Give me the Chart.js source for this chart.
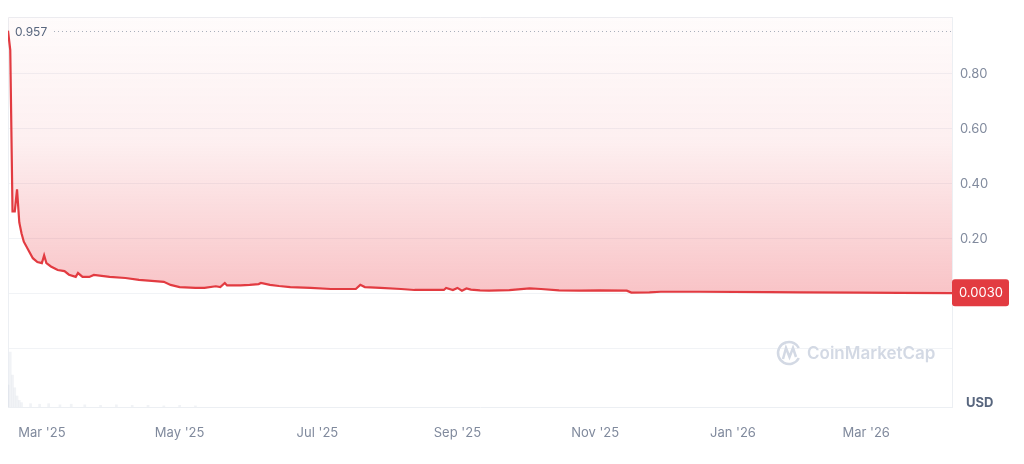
<!DOCTYPE html>
<html>
<head>
<meta charset="utf-8">
<script src="https://cdn.jsdelivr.net/npm/chart.js@4/dist/chart.umd.min.js"></script>
<style>
  html, body { margin: 0; padding: 0; background: #fff; }
  #wrap { width: 1024px; height: 464px; }
</style>
</head>
<body>
<div id="wrap"><canvas id="chart"></canvas></div>
<script>
// price history (USD)
const priceDates = ['2025-02-14', '2025-02-15', '2025-02-16', '2025-02-17', '2025-02-18', '2025-02-19', '2025-02-20', '2025-02-21', '2025-02-23', '2025-02-25', '2025-02-27', '2025-03-01', '2025-03-02', '2025-03-03', '2025-03-05', '2025-03-08', '2025-03-11', '2025-03-13', '2025-03-16', '2025-03-17', '2025-03-19', '2025-03-22', '2025-03-24', '2025-03-31', '2025-04-07', '2025-04-13', '2025-04-20', '2025-04-24', '2025-04-27', '2025-05-01', '2025-05-08', '2025-05-12', '2025-05-17', '2025-05-19', '2025-05-21', '2025-05-22', '2025-05-28', '2025-06-01', '2025-06-05', '2025-06-06', '2025-06-10', '2025-06-14', '2025-06-19', '2025-06-28', '2025-07-07', '2025-07-18', '2025-07-20', '2025-07-22', '2025-07-29', '2025-08-07', '2025-08-13', '2025-08-26', '2025-08-27', '2025-08-30', '2025-09-01', '2025-09-03', '2025-09-05', '2025-09-07', '2025-09-11', '2025-09-15', '2025-09-24', '2025-10-03', '2025-10-08', '2025-10-16', '2025-10-25', '2025-11-03', '2025-11-15', '2025-11-17', '2025-11-25', '2025-11-30', '2025-12-17', '2026-01-17', '2026-01-31', '2026-02-26', '2026-03-16', '2026-04-08'];
const prices = [0.957, 0.887, 0.30, 0.30, 0.38, 0.26, 0.22, 0.19, 0.16, 0.13, 0.116, 0.112, 0.14, 0.112, 0.10, 0.087, 0.083, 0.07, 0.062, 0.076, 0.062, 0.062, 0.069, 0.062, 0.058, 0.051, 0.047, 0.044, 0.033, 0.025, 0.022, 0.022, 0.028, 0.025, 0.04, 0.031, 0.031, 0.033, 0.036, 0.04, 0.033, 0.029, 0.025, 0.022, 0.018, 0.018, 0.033, 0.025, 0.022, 0.018, 0.0145, 0.0145, 0.022, 0.014, 0.022, 0.012, 0.02, 0.016, 0.013, 0.012, 0.014, 0.02, 0.018, 0.013, 0.012, 0.013, 0.012, 0.005, 0.006, 0.008, 0.008, 0.007, 0.006, 0.005, 0.004, 0.003];

// volume (relative), faint bars at the bottom
const volumeDates = ['2025-02-14', '2025-02-15', '2025-02-16', '2025-02-17', '2025-02-18', '2025-02-19', '2025-02-20', '2025-02-24', '2025-02-28', '2025-03-04', '2025-03-09', '2025-03-14', '2025-03-20', '2025-03-27', '2025-04-03', '2025-04-10', '2025-04-17', '2025-04-24', '2025-05-01', '2025-05-08'];
const volumes = [40, 100, 58, 35, 20, 12, 8, 6, 5, 6, 4, 5, 4, 3, 4, 3, 3, 2, 3, 2];

const tickDates = ['2025-03-01', '2025-05-01', '2025-07-01', '2025-09-01', '2025-11-01', '2026-01-01', '2026-03-01'];
const tickLabels = ["Mar '25", "May '25", "Jul '25", "Sep '25", "Nov '25", "Jan '26", "Mar '26"];
const priceTicks = [-0.2, 0, 0.2, 0.4, 0.6, 0.8];

const startDay = Date.parse('2025-02-14');
const toDay = s => (Date.parse(s) - startDay) / 86400000;

const red = '#e23b41';
const grey = '#808a9d';

const pricePoints = priceDates.map((d, i) => ({ x: toDay(d), y: prices[i] }));
const volumePoints = volumeDates.map((d, i) => ({ x: toDay(d), y: volumes[i] }));

const extras = {
	id: 'extras',
	beforeDatasetsDraw(chart) {
		const { ctx, chartArea } = chart;
		ctx.save();
		ctx.strokeStyle = '#eceff3';
		ctx.lineWidth = 1;
		ctx.beginPath();
		ctx.moveTo(chartArea.left + 0.5, chartArea.bottom);
		ctx.lineTo(chartArea.left + 0.5, chartArea.top + 0.5);
		ctx.lineTo(chartArea.right, chartArea.top + 0.5);
		ctx.stroke();

		// watermark
		ctx.strokeStyle = '#d3d9e4';
		ctx.lineWidth = 2.5;
		ctx.beginPath();
		ctx.arc(789, 353, 11, 0.15 * Math.PI, 1.85 * Math.PI, false);
		ctx.stroke();
		ctx.beginPath();
		ctx.moveTo(783, 359);
		ctx.lineTo(786, 348);
		ctx.lineTo(789.5, 357);
		ctx.lineTo(793, 348);
		ctx.lineTo(796, 357);
		ctx.stroke();
		ctx.fillStyle = '#d3d9e4';
		ctx.font = '600 17px Inter';
		ctx.textBaseline = 'middle';
		ctx.fillText('CoinMarketCap', 807, 354);
		ctx.restore();
	},
	afterDatasetsDraw(chart) {
		const { ctx, chartArea, scales } = chart;
		const maxPrice = Math.max(...prices);
		const lastPrice = prices[prices.length - 1];
		ctx.save();

		const yMax = Math.round(scales.y.getPixelForValue(maxPrice)) + 0.5;
		ctx.strokeStyle = '#a9b0bc';
		ctx.lineWidth = 1;
		ctx.setLineDash([1, 3]);
		ctx.beginPath();
		ctx.moveTo(54, yMax);
		ctx.lineTo(chartArea.right, yMax);
		ctx.stroke();
		ctx.setLineDash([]);
		ctx.fillStyle = '#58667e';
		ctx.font = '12px Inter';
		ctx.textBaseline = 'middle';
		ctx.fillText(maxPrice.toFixed(3), 15, yMax + 1);

		const yLast = scales.y.getPixelForValue(lastPrice);
		ctx.fillStyle = red;
		ctx.beginPath();
		ctx.roundRect(chartArea.right, yLast - 14, 57, 27, 3);
		ctx.fill();
		ctx.fillStyle = '#fff';
		ctx.font = '13px Inter';
		ctx.fillText(lastPrice.toFixed(4), chartArea.right + 7, yLast);

		ctx.fillStyle = '#58667e';
		ctx.font = 'bold 13px Inter';
		ctx.fillText('USD', 966, 403);
		ctx.restore();
	}
};

const chart = new Chart(document.getElementById('chart'), {
	type: 'line',
	data: {
		datasets: [
			{
				label: 'Price',
				data: pricePoints,
				borderColor: red,
				borderWidth: 2.2,
				pointRadius: 0,
				tension: 0,
				fill: 'end',
				yAxisID: 'y',
				backgroundColor: (context) => {
					const { chart } = context;
					const { ctx, chartArea, scales } = chart;
					if (!chartArea) return 'rgba(234,57,67,0.1)';
					const y0 = scales.y.getPixelForValue(0);
					const g = ctx.createLinearGradient(0, chartArea.top, 0, y0);
					g.addColorStop(0, 'rgba(234,57,67,0.02)');
					g.addColorStop(0.45, 'rgba(234,57,67,0.08)');
					g.addColorStop(1, 'rgba(234,57,67,0.30)');
					return g;
				},
				order: 1
			},
			{
				type: 'bar',
				label: 'Volume',
				data: volumePoints,
				backgroundColor: 'rgba(200,208,220,0.25)',
				barThickness: 2,
				yAxisID: 'yv',
				order: 2
			}
		]
	},
	options: {
		responsive: true,
		maintainAspectRatio: false,
		animation: false,
		layout: {
			padding: { left: 8, top: 17, right: 0, bottom: 0 }
		},
		plugins: {
			legend: { display: false },
			tooltip: { enabled: false }
		},
		scales: {
			x: {
				type: 'linear',
				min: 0,
				max: 418,
				offset: false,
				afterBuildTicks: (scale) => {
					scale.ticks = tickDates.map(d => ({ value: toDay(d) }));
				},
				afterFit: (scale) => { scale.height = 57; },
				ticks: {
					autoSkip: false,
					maxRotation: 0,
					padding: 10,
					color: grey,
					font: { family: 'Inter', size: 13 },
					callback: (value) => {
						const i = tickDates.findIndex(d => toDay(d) === value);
						return i >= 0 ? tickLabels[i] : '';
					}
				},
				grid: { display: false },
				border: { color: '#eceff3' }
			},
			y: {
				position: 'right',
				min: -0.411,
				max: 1.007,
				afterBuildTicks: (scale) => {
					scale.ticks = priceTicks.map(v => ({ value: v }));
				},
				afterFit: (scale) => { scale.width = 72; },
				ticks: {
					padding: 8,
					color: grey,
					font: { family: 'Inter', size: 13 },
					callback: (value) => value > 0 ? value.toFixed(2) : ''
				},
				grid: { color: '#f1f3f6', drawTicks: false },
				border: { color: '#eceff3' }
			},
			yv: {
				display: false,
				min: 0,
				max: 710
			}
		}
	},
	plugins: [extras]
});
</script>
</body>
</html>
